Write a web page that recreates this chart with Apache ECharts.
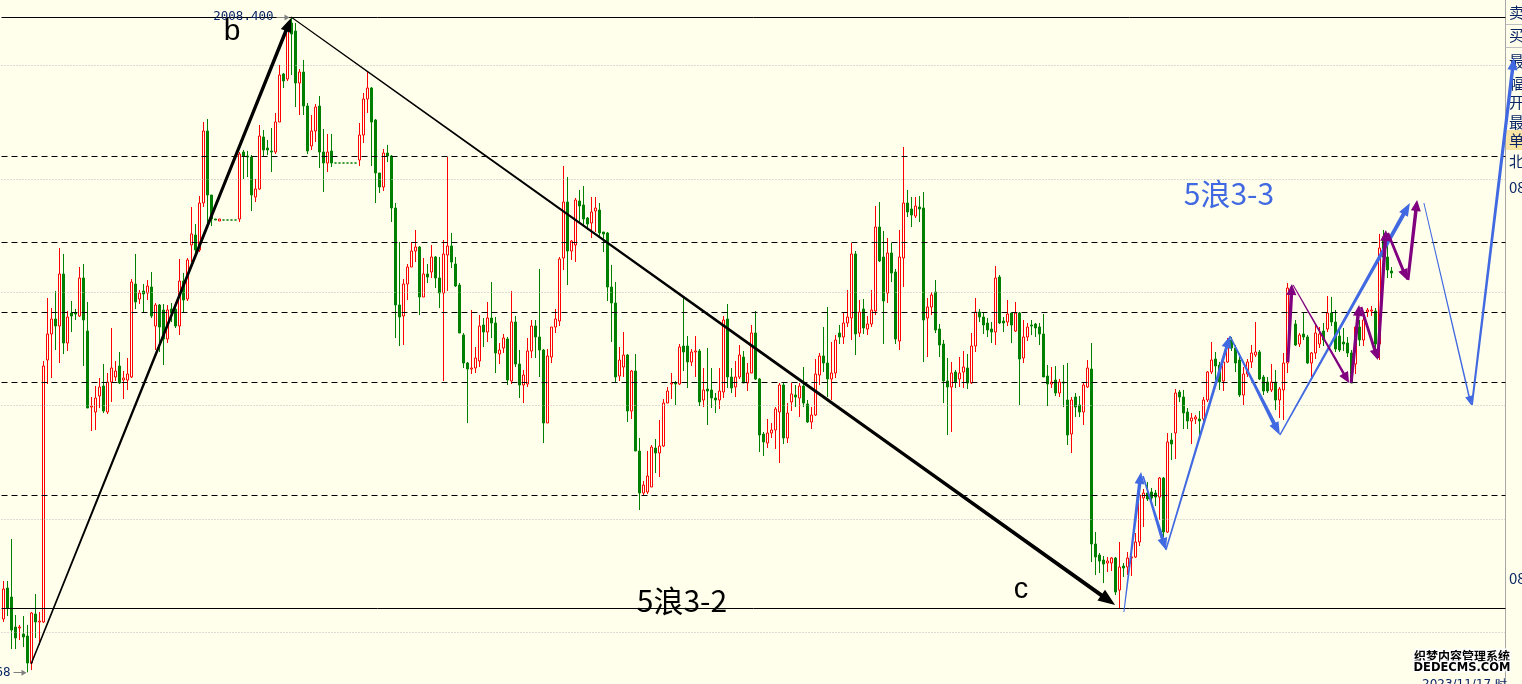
<!DOCTYPE html>
<html><head><meta charset="utf-8">
<script src="https://cdn.jsdelivr.net/npm/echarts@6/dist/echarts.min.js"></script>
<style>html,body{margin:0;padding:0;background:#FFFFEB;}#c{width:1522px;height:684px;}</style>
</head><body><div id="c"></div>
<script>
// ---- candles: [open, close, low, high] ----
const candles = [
[1948.2,1951.2,1947.9,1952.0],[1951.3,1949.3,1948.5,1952.0],[1950.4,1947.1,1945.2,1956.2],[1947.4,1946.3,1945.2,1948.6],
[1947.3,1947.4,1946.1,1947.6],[1946.7,1946.4,1945.4,1948.5],[1946.5,1943.8,1942.868,1947.6],[1943.8,1948.8,1943.1,1948.9],
[1948.7,1947.9,1946.3,1950.7],[1947.9,1948.0,1945.6,1948.9],[1947.9,1973.5,1947.8,1974.0],[1974.1,1976.7,1971.7,1980.3],
[1976.7,1978.2,1972.3,1979.3],[1978.2,1977.5,1975.1,1981.0],[1977.5,1982.7,1973.8,1985.3],[1982.7,1975.8,1974.7,1984.7],
[1975.8,1978.4,1975.0,1979.0],[1978.8,1978.5,1976.9,1980.0],[1978.8,1978.7,1978.1,1979.2],[1978.5,1982.3,1978.4,1983.4],
[1982.3,1978.1,1973.5,1983.7],[1977.0,1969.3,1969.3,1979.9],[1969.4,1969.5,1967.0,1970.4],[1968.9,1970.3,1967.1,1971.5],
[1970.5,1971.4,1969.3,1972.3],[1971.5,1969.0,1968.8,1973.7],[1968.9,1971.9,1968.7,1972.8],[1971.9,1973.3,1969.9,1977.3],
[1972.4,1973.0,1972.0,1974.0],[1973.5,1971.8,1971.7,1974.9],[1972.1,1972.3,1970.2,1973.0],[1972.1,1972.7,1971.1,1974.3],
[1972.4,1981.9,1972.3,1982.2],[1981.7,1979.9,1979.2,1984.7],[1980.2,1980.8,1979.7,1981.1],[1981.0,1980.7,1978.9,1981.7],
[1980.8,1981.5,1980.1,1982.1],[1981.4,1978.5,1978.3,1982.9],[1977.5,1979.6,1975.1,1979.8],[1979.6,1977.4,1974.9,1979.7],
[1979.1,1976.2,1973.6,1979.7],[1976.2,1979.1,1975.8,1979.6],[1979.2,1978.8,1977.9,1979.8],[1979.2,1977.5,1977.3,1979.6],
[1977.5,1982.0,1976.6,1984.2],[1982.0,1980.1,1978.8,1982.8],[1980.2,1984.1,1980.0,1984.3],[1985.6,1986.7,1983.9,1989.4],
[1986.6,1985.1,1984.5,1987.7],[1985.1,1989.8,1984.9,1990.5],[1989.8,1997.0,1989.4,1997.9],[1997.0,1990.6,1987.7,1998.2],
[1990.6,1988.2,1987.5,1990.6],[1988.2,1988.1,1988.1,1988.2],[1988.0,1988.2,1988.0,1988.2],[1988.1,1988.1,1988.1,1988.1],
[1988.1,1988.1,1988.1,1988.1],[1988.1,1988.1,1988.1,1988.1],[1988.1,1988.1,1988.1,1988.1],[1988.2,1994.7,1987.9,1994.9],
[1994.9,1994.5,1992.2,1995.1],[1994.5,1994.4,1992.4,1995.0],[1994.4,1990.6,1989.0,1994.6],[1990.4,1991.2,1989.9,1992.2],
[1991.2,1996.5,1991.1,1997.6],[1996.4,1995.1,1994.4,1997.1],[1995.3,1995.1,1994.6,1996.1],[1995.0,1994.9,1992.9,1997.3],
[1994.9,1997.9,1994.7,1998.8],[1997.9,2002.6,1997.9,2003.6],[2002.7,2002.0,2001.3,2002.8],[2002.2,2007.4,2002.0,2007.8],
[2007.8,2006.7,2002.6,2008.4],[2007.0,2001.8,1999.4,2007.8],[2001.8,2002.9,1998.6,2003.2],[2002.9,1999.5,1998.6,2004.1],
[1999.5,1995.0,1994.7,1999.8],[1995.5,1997.0,1995.1,1998.6],[1997.0,1999.4,1995.9,1999.7],[1999.5,1994.9,1993.3,2000.5],
[1994.9,1993.8,1990.9,1997.2],[1993.8,1994.9,1992.9,1996.7],[1995.0,1993.8,1993.4,1996.7],[1993.8,1993.8,1993.8,1993.8],
[1993.8,1993.8,1993.8,1993.8],[1993.8,1993.8,1993.8,1993.8],[1993.8,1993.8,1993.8,1993.8],[1993.8,1993.8,1993.8,1993.8],
[1993.8,1993.8,1993.8,1993.8],[1994.1,1996.6,1993.5,1997.8],[1996.6,2000.2,1995.8,2000.8],[2000.2,2001.3,1998.8,2002.9],
[2001.3,1997.9,1993.5,2001.4],[1998.1,1992.8,1989.8,1998.2],[1992.8,1991.4,1990.8,1992.8],[1991.4,1994.8,1991.0,1995.2],
[1994.8,1994.5,1993.9,1995.6],[1994.5,1989.3,1987.9,1994.6],[1989.3,1979.6,1976.3,1989.8],[1979.6,1978.4,1975.5,1985.9],
[1978.5,1981.7,1975.6,1982.2],[1981.7,1983.4,1980.1,1983.7],[1983.4,1985.0,1983.4,1985.9],[1985.0,1985.4,1983.9,1987.1],
[1985.4,1980.4,1978.6,1985.5],[1980.4,1982.7,1980.4,1984.3],[1982.7,1982.4,1981.8,1983.7],[1982.9,1984.4,1982.3,1985.6],
[1984.4,1982.3,1981.3,1984.5],[1982.3,1980.8,1979.3,1984.4],[1980.8,1984.7,1972.0,1986.1],[1984.6,1985.5,1981.0,1994.4],
[1985.5,1983.9,1983.3,1986.8],[1983.7,1981.5,1981.4,1984.4],[1981.6,1976.8,1976.8,1981.8],[1976.6,1973.8,1973.3,1976.8],
[1973.8,1973.2,1967.8,1973.9],[1973.2,1973.3,1972.7,1979.1],[1973.3,1974.3,1972.8,1975.4],[1974.0,1977.5,1973.4,1978.6],
[1977.6,1976.9,1975.4,1978.3],[1976.9,1978.3,1975.9,1979.9],[1978.3,1977.8,1976.3,1981.9],[1977.8,1974.8,1972.8,1978.4],
[1974.7,1975.1,1973.7,1975.8],[1975.3,1976.3,1974.8,1976.7],[1976.2,1972.1,1971.6,1976.4],[1972.0,1977.9,1971.7,1981.0],
[1977.9,1973.7,1973.4,1978.5],[1973.7,1971.6,1970.3,1975.1],[1971.6,1972.6,1969.8,1973.1],[1971.7,1975.0,1971.4,1976.3],
[1975.0,1977.5,1974.3,1978.1],[1977.5,1976.4,1974.3,1978.1],[1976.4,1975.1,1972.4,1983.2],[1975.1,1967.8,1965.8,1975.2],
[1967.8,1974.5,1967.8,1975.2],[1974.4,1977.4,1973.8,1977.4],[1977.4,1978.2,1976.8,1979.2],[1978.0,1984.2,1977.5,1984.4],
[1984.3,1989.9,1983.1,1993.5],[1989.9,1985.0,1981.6,1992.4],[1985.0,1986.0,1984.1,1986.1],[1985.6,1990.1,1983.9,1990.3],
[1990.0,1989.5,1987.8,1991.1],[1989.6,1988.2,1987.4,1991.5],[1988.3,1987.7,1987.1,1988.4],[1987.8,1988.9,1986.3,1990.4],
[1989.0,1989.3,1986.9,1990.4],[1989.1,1986.8,1986.3,1989.8],[1986.9,1986.7,1984.9,1986.9],[1986.8,1981.4,1980.0,1986.9],
[1981.4,1979.8,1975.9,1983.6],[1979.8,1972.4,1971.8,1981.9],[1972.5,1974.1,1972.0,1975.4],[1973.4,1974.6,1972.4,1976.9],
[1974.6,1969.0,1967.9,1974.7],[1969.0,1973.0,1968.2,1973.1],[1973.0,1965.0,1965.0,1974.7],[1965.0,1960.8,1959.1,1966.3],
[1960.8,1961.6,1960.6,1962.0],[1960.9,1962.5,1960.7,1965.0],[1961.4,1965.4,1961.4,1965.6],[1965.3,1964.8,1962.8,1966.2],
[1964.8,1965.5,1962.4,1968.1],[1965.5,1969.8,1965.4,1970.2],[1969.8,1971.0,1969.8,1971.4],[1971.7,1971.8,1970.2,1972.8],
[1971.8,1971.7,1969.6,1972.0],[1971.7,1975.4,1971.6,1975.7],[1975.5,1974.9,1973.0,1980.5],[1975.5,1973.9,1971.3,1976.5],
[1973.9,1974.9,1973.5,1975.2],[1974.9,1975.0,1972.4,1976.5],[1975.0,1969.9,1969.5,1975.2],[1970.1,1971.1,1969.4,1973.3],
[1971.2,1971.0,1967.6,1975.3],[1971.1,1970.3,1969.3,1973.3],[1970.3,1970.1,1968.8,1970.8],[1970.1,1971.0,1969.2,1973.3],
[1970.9,1978.1,1970.3,1978.5],[1978.2,1972.4,1971.3,1979.7],[1972.4,1971.3,1970.8,1973.3],[1971.4,1972.4,1970.4,1974.0],
[1972.4,1974.6,1972.2,1975.6],[1974.4,1971.8,1971.8,1975.0],[1971.8,1972.8,1971.0,1973.8],[1972.8,1976.8,1972.8,1977.6],
[1976.8,1972.2,1972.1,1979.0],[1972.2,1966.6,1964.9,1972.3],[1966.7,1965.9,1964.5,1966.9],[1965.8,1966.8,1965.3,1968.2],
[1966.8,1967.1,1966.3,1967.8],[1967.1,1969.2,1965.2,1969.4],[1968.9,1971.6,1963.8,1971.8],[1971.6,1966.3,1965.7,1971.9],
[1966.3,1968.8,1965.8,1969.8],[1969.9,1970.7,1969.0,1971.8],[1970.6,1970.4,1969.4,1971.6],[1970.3,1971.5,1968.4,1971.8],
[1971.5,1969.8,1969.4,1973.4],[1969.7,1967.9,1967.8,1970.1],[1967.9,1968.6,1967.2,1969.4],[1968.6,1972.7,1968.5,1974.2],
[1972.6,1974.5,1971.6,1974.8],[1974.5,1973.8,1972.9,1977.4],[1973.8,1972.2,1970.4,1979.4],[1972.2,1972.8,1970.1,1975.9],
[1972.8,1976.1,1972.3,1976.6],[1976.8,1976.4,1975.7,1977.6],[1976.4,1977.8,1975.7,1978.8],[1977.8,1978.4,1977.4,1981.1],
[1978.3,1984.7,1976.1,1985.8],[1984.7,1976.7,1974.6,1985.0],[1976.8,1978.9,1976.4,1980.1],[1979.2,1977.3,1976.7,1980.2],
[1977.2,1977.7,1976.6,1978.5],[1977.7,1979.1,1977.4,1981.1],[1979.0,1987.4,1978.6,1989.5],[1987.4,1984.0,1983.9,1989.9],
[1984.4,1980.0,1975.7,1987.0],[1980.8,1984.8,1979.8,1986.3],[1984.8,1982.8,1981.9,1985.8],[1982.9,1976.2,1975.7,1983.2],
[1976.0,1984.4,1975.1,1987.1],[1984.3,1989.8,1981.4,1995.4],[1989.8,1988.9,1988.4,1991.1],[1989.2,1988.6,1987.4,1990.4],
[1988.5,1989.5,1988.3,1990.4],[1989.4,1989.2,1987.9,1990.5],[1989.3,1978.1,1973.9,1990.9],[1978.3,1979.4,1974.4,1980.3],
[1979.4,1980.6,1978.6,1980.9],[1980.9,1977.1,1976.8,1982.1],[1977.2,1975.6,1974.4,1977.7],[1975.7,1972.0,1969.8,1976.1],
[1972.0,1971.4,1966.6,1974.3],[1971.4,1972.8,1966.9,1973.9],[1972.9,1971.9,1971.3,1973.1],[1972.2,1972.8,1971.4,1974.4],
[1972.9,1973.4,1971.3,1975.0],[1973.3,1971.8,1971.2,1974.7],[1971.8,1975.5,1971.7,1976.8],[1975.5,1978.9,1974.9,1980.3],
[1978.9,1978.4,1977.9,1979.2],[1978.4,1977.6,1976.7,1978.8],[1977.8,1977.1,1976.4,1978.3],[1977.2,1976.9,1975.8,1977.9],
[1976.9,1982.3,1975.6,1983.5],[1982.4,1977.8,1977.7,1982.6],[1978.0,1977.8,1976.9,1978.4],[1977.9,1978.7,1977.5,1980.1],
[1978.8,1977.6,1975.8,1978.8],[1977.0,1978.8,1976.9,1979.9],[1978.8,1974.2,1969.6,1978.9],[1974.3,1976.4,1973.8,1978.1],
[1976.4,1977.4,1976.0,1977.8],[1977.6,1977.5,1976.6,1978.1],[1977.7,1977.3,1976.4,1977.8],[1977.4,1976.7,1975.6,1977.8],
[1976.7,1972.4,1972.4,1978.7],[1972.5,1971.7,1969.5,1973.6],[1971.7,1971.9,1971.3,1973.4],[1972.1,1970.8,1970.5,1973.5],
[1970.8,1971.9,1970.4,1972.2],[1971.9,1971.8,1969.4,1973.6],[1970.1,1966.6,1965.6,1973.8],[1966.7,1970.1,1964.8,1970.4],
[1970.4,1969.4,1968.4,1970.8],[1969.6,1968.9,1968.4,1970.5],[1968.9,1971.6,1967.6,1971.8],[1971.4,1973.3,1971.3,1974.1],
[1973.2,1955.7,1953.9,1975.8],[1955.7,1954.4,1952.6,1956.9],[1954.6,1954.0,1952.8,1954.8],[1954.1,1953.7,1951.8,1954.5],
[1953.8,1954.0,1952.9,1954.4],[1953.8,1954.3,1953.0,1954.4],[1954.3,1950.9,1950.6,1954.4],[1951.1,1953.4,1949.3,1955.9],
[1953.5,1953.3,1952.4,1953.8],[1953.4,1954.3,1952.6,1954.9],[1954.3,1954.4,1952.5,1955.1],[1954.4,1955.9,1954.3,1956.8],
[1955.9,1960.6,1955.5,1960.8],[1960.3,1960.8,1957.4,1961.2],[1960.8,1960.2,1960.0,1961.9],[1960.9,1960.3,1959.9,1961.3],
[1960.8,1960.4,1959.5,1961.1],[1960.4,1962.3,1958.1,1962.4],[1962.3,1956.9,1956.4,1962.4],[1956.9,1965.9,1956.8,1966.8],
[1966.1,1965.7,1964.1,1966.8],[1966.8,1970.8,1964.2,1971.2],[1970.9,1970.4,1969.9,1971.1],[1970.4,1968.8,1967.2,1971.1],
[1968.9,1968.0,1967.2,1969.3],[1968.0,1968.3,1965.7,1968.8],[1968.2,1968.4,1967.7,1968.6],[1968.2,1968.0,1966.5,1969.0],
[1968.2,1970.1,1967.8,1970.4],[1970.1,1972.9,1969.9,1973.0],[1972.9,1974.1,1972.7,1975.9],[1974.2,1973.5,1972.1,1974.9],
[1973.6,1971.9,1971.1,1973.9],[1972.0,1973.9,1971.0,1974.6],[1973.9,1975.4,1973.8,1976.3],[1976.1,1975.3,1975.0,1976.4],
[1975.3,1973.8,1972.9,1975.6],[1974.1,1970.6,1970.4,1974.8],[1970.6,1972.7,1969.6,1973.4],[1972.7,1973.9,1972.4,1974.2],
[1973.9,1974.8,1973.3,1975.6],[1974.6,1974.9,1974.4,1977.9],[1974.9,1972.2,1972.1,1975.1],[1972.4,1971.0,1970.6,1972.6],
[1971.9,1971.0,1970.8,1972.4],[1971.1,1971.9,1970.9,1973.7],[1971.9,1970.1,1969.1,1973.1],[1970.1,1971.2,1968.3,1971.4],
[1971.1,1973.8,1968.1,1974.8],[1973.8,1981.3,1972.8,1981.8],[1981.4,1980.6,1980.3,1981.6],[1977.7,1975.6,1975.5,1978.1],
[1975.7,1976.6,1975.4,1976.8],[1976.7,1976.4,1976.1,1978.8],[1976.4,1973.8,1973.7,1976.6],[1973.8,1974.8,1972.4,1974.9],
[1974.8,1976.8,1974.2,1977.8],[1975.7,1976.7,1975.3,1977.4],[1977.0,1976.1,1975.5,1977.8],[1977.2,1978.8,1976.9,1980.5],
[1978.8,1977.9,1977.5,1980.4],[1977.9,1975.2,1974.9,1979.1],[1976.5,1975.1,1974.9,1977.3],[1975.9,1975.7,1975.0,1977.3],
[1975.8,1974.8,1974.4,1976.4],[1974.8,1971.8,1971.8,1975.1],[1973.7,1977.4,1972.7,1977.5],[1977.4,1976.1,1975.5,1978.1],
[1976.1,1978.1,1975.5,1978.5],[1978.9,1979.1,1978.4,1979.3],[1979.0,1979.1,1978.5,1979.5],[1979.0,1975.7,1974.5,1979.3],
[1975.7,1985.3,1974.1,1986.7],[1986.4,1984.4,1983.9,1987.1],[1984.4,1983.1,1982.3,1986.1],[1983.0,1982.8,1982.3,1983.4]
];
const emptySlots = 28;

// ---- horizontal levels ----
const solidLevels = [2008.4, 1949.25];
const dashedLevels = [1994.45, 1985.85, 1978.85, 1971.85, 1960.55];
const dottedLevels = [2003.55, 1992.15, 1980.85, 1969.55, 1958.15, 1946.85];

// ---- wave legs: [barFrom, priceFrom, barTo, priceTo] ----
const blackLegs = [[6.9,1943.7,71.9,2008.3],[71.9,2008.4,277.9,1949.6]];
const blueLegs = [
 [280.1,1948.9,284.4,1962.9],[284.9,1962.5,290.6,1955.1],[290.6,1955.1,306.6,1976.5],
 [306.6,1976.5,319.1,1966.6],[319.1,1966.6,351.6,1989.8],[355.1,1989.8,366.9,1969.6],
 [367.1,1969.6,377.6,2004.3]];
const purpleLegs = [
 [321.1,1973.9,322.1,1981.7],[322.4,1981.6,336.4,1971.8],[336.9,1971.8,338.9,1979.6],
 [339.4,1979.4,343.6,1974.1],[343.6,1974.3,345.6,1987.1],[346.1,1986.8,350.9,1982.1],
 [351.1,1982.1,353.4,1990.1]];

// ---- styles ----
const BG = '#FFFFEB';
const NAVY = '#0a2566';
const blackStyle = {color:'#000', widths:[[1.5,3.5],[1,4]], heads:[[14,5.5],[17,6.5]]};
const blueStyle = {color:'#4169E1', widths:[[1,3.5],[1.5,3.5],[1.5,3],[1.5,4],[1.5,4],[1,1.5],[2,3.5]], heads:[[12,5],[12,5],[12,5],[13,5],[13,5],[9,4],[12,5]]};
const purpleStyle = {color:'#800080', widths:[[3,3.5],[1,2.5],[3,3.5],[2.5,3],[3,3.5],[2.5,3],[3,3.5]], heads:[[11,5],[11,5],[11,5],[11,5],[11,5],[11,5],[11,5]]};

const total = candles.length + emptySlots;
const cats = Array.from({length: total}, (_, i) => String(i));

function taper(a, b, w1, w2, L, H) {
  const dx = b[0]-a[0], dy = b[1]-a[1];
  const len = Math.hypot(dx, dy) || 1;
  const ux = dx/len, uy = dy/len, nx = -uy, ny = ux;
  const bx = b[0]-ux*L, by = b[1]-uy*L;
  return [
    [a[0]+nx*w1/2, a[1]+ny*w1/2], [bx+nx*w2/2, by+ny*w2/2], [bx+nx*H, by+ny*H],
    [b[0], b[1]], [bx-nx*H, by-ny*H], [bx-nx*w2/2, by-ny*w2/2], [a[0]-nx*w1/2, a[1]-ny*w1/2]
  ];
}
function arrowSeries(legs, st) {
  return {
    type:'custom', xAxisIndex:1, yAxisIndex:0, clip:false, silent:true, z:10,
    dimensions:['x1','y1','x2','y2'], encode:{x:[0,2], y:[1,3]},
    data: legs,
    renderItem(params, api) {
      const a = api.coord([api.value(0), api.value(1)]);
      const b = api.coord([api.value(2), api.value(3)]);
      const w = st.widths[params.dataIndex], h = st.heads[params.dataIndex];
      return {type:'polygon', shape:{points: taper(a, b, w[0], w[1], h[0], h[1])}, style:{fill: st.color}};
    }
  };
}

const levelData = []
  .concat(dottedLevels.map(v => ({yAxis:v, lineStyle:{color:'#b8b8b8', type:[1,2], width:1}})))
  .concat(dashedLevels.map(v => ({yAxis:v, lineStyle:{color:'#000', type:[6,4], width:1}})))
  .concat(solidLevels.map(v => ({yAxis:v, lineStyle:{color:'#000', type:'solid', width:1}})));

const option = {
  animation:false,
  backgroundColor: BG,
  grid:{left:1.5, top:0, width:1504, height:684, containLabel:false},
  xAxis:[
    {type:'category', data:cats, show:false, boundaryGap:true},
    {type:'value', min:-0.5, max:total-0.5, show:false}
  ],
  yAxis:{type:'value', min:1941.7, max:2010.1, show:false, splitLine:{show:false}},
  series:[
    {type:'line', data:[], z:1, silent:true,
     markLine:{silent:true, symbol:'none', label:{show:false}, animation:false, data: levelData}},
    {type:'candlestick', xAxisIndex:0, yAxisIndex:0, data:candles, barWidth:2, z:3, silent:true,
     itemStyle:{color:BG, color0:'#008000', borderColor:'#ff0000', borderColor0:'#008000', borderColorDoji:'#008000', borderWidth:1}},
    arrowSeries(blackLegs, blackStyle),
    arrowSeries(blueLegs, blueStyle),
    arrowSeries(purpleLegs, purpleStyle)
  ]
};

const chart = echarts.init(document.getElementById('c'), null, {renderer:'canvas'});
chart.setOption(option);

// high / low labels from data
let hiIdx = 0, loIdx = 0;
candles.forEach((c, i) => { if (c[3] > candles[hiIdx][3]) hiIdx = i; if (c[2] < candles[loIdx][2]) loIdx = i; });
const hiP = chart.convertToPixel({seriesIndex:1}, [hiIdx, candles[hiIdx][3]]);
const loP = chart.convertToPixel({seriesIndex:1}, [loIdx, candles[loIdx][2]]);

function priceTag(p, value, gap) {
  const x0 = p[0] - gap;
  return [
    {type:'text', z:20, style:{text: value.toFixed(3), x: x0 - 16, y: p[1], font:'12.5px "DejaVu Sans Mono"', fill: NAVY, align:'right', verticalAlign:'middle', textAlign:'right', textVerticalAlign:'middle'}},
    {type:'line', z:20, shape:{x1:x0-13, y1:Math.round(p[1])+0.5, x2:x0-2, y2:Math.round(p[1])+0.5}, style:{stroke:'#808080', lineWidth:1}},
    {type:'polygon', z:20, shape:{points:[[x0-5, p[1]-2.5],[x0, p[1]+0.5],[x0-5, p[1]+3.5]]}, style:{fill:'#808080'}}
  ];
}

const panelTexts = [['卖',12],['买',35],['最',61],['幅',83],['开',102],['最',122],['单',140],['北',161],['08',187],['08',578]];
const graphics = [
  {type:'rect', z:0, shape:{x:1506, y:0, width:16, height:684}, style:{fill:BG}},
  {type:'rect', z:0, shape:{x:1506, y:130, width:16, height:20}, style:{fill:'#F9E4A4'}},
  {type:'line', z:1, shape:{x1:1505.5, y1:0, x2:1505.5, y2:684}, style:{stroke:'#a8a8a8', lineWidth:1}},
  {type:'line', z:1, shape:{x1:1506, y1:24.5, x2:1522, y2:24.5}, style:{stroke:'#c0c0c0', lineWidth:1}},
  {type:'line', z:1, shape:{x1:1506, y1:47.5, x2:1522, y2:47.5}, style:{stroke:'#c0c0c0', lineWidth:1}},
  ...panelTexts.map(t => ({type:'text', z:2, style:{text:t[0], x:1509, y:t[1], font:'15px "Noto Sans CJK SC"', fill:NAVY, align:'left', verticalAlign:'middle', textAlign:'left', textVerticalAlign:'middle'}})),
  {type:'text', z:20, style:{text:'b', x:232, y:32, font:'30px "Liberation Sans"', fill:'#000', align:'center', verticalAlign:'middle', textAlign:'center', textVerticalAlign:'middle'}},
  {type:'text', z:20, style:{text:'c', x:1021, y:590, font:'29px "Liberation Sans"', fill:'#000', align:'center', verticalAlign:'middle', textAlign:'center', textVerticalAlign:'middle'}},
  {type:'text', z:20, style:{text:'5浪3-2', x:682, y:601, font:'30px "Noto Sans CJK SC"', fill:'#000', align:'center', verticalAlign:'middle', textAlign:'center', textVerticalAlign:'middle'}},
  {type:'text', z:20, style:{text:'5浪3-3', x:1229, y:194, font:'30px "Noto Sans CJK SC"', fill:'#4169E1', align:'center', verticalAlign:'middle', textAlign:'center', textVerticalAlign:'middle'}},
  {type:'text', z:30, style:{text:'织梦内容管理系统', x:1462, y:656, font:'bold 12px "Noto Sans CJK SC"', fill:'#000', stroke:'#fff', lineWidth:3, align:'center', verticalAlign:'middle', textAlign:'center', textVerticalAlign:'middle'}},
  {type:'text', z:30, style:{text:'DEDECMS.COM', x:1462, y:668, font:'bold 11.5px "DejaVu Sans"', fill:'#000', stroke:'#fff', lineWidth:3, align:'center', verticalAlign:'middle', textAlign:'center', textVerticalAlign:'middle'}},
  {type:'text', z:30, style:{text:'2023/11/17 时', x:1422, y:679, font:'12px "DejaVu Sans"', fill:NAVY, align:'left', verticalAlign:'top', textAlign:'left', textVerticalAlign:'top'}},
  ...priceTag(hiP, candles[hiIdx][3], 2),
  ...priceTag(loP, candles[loIdx][2], 1)
];
chart.setOption({graphic:{elements: graphics}});
</script></body></html>
